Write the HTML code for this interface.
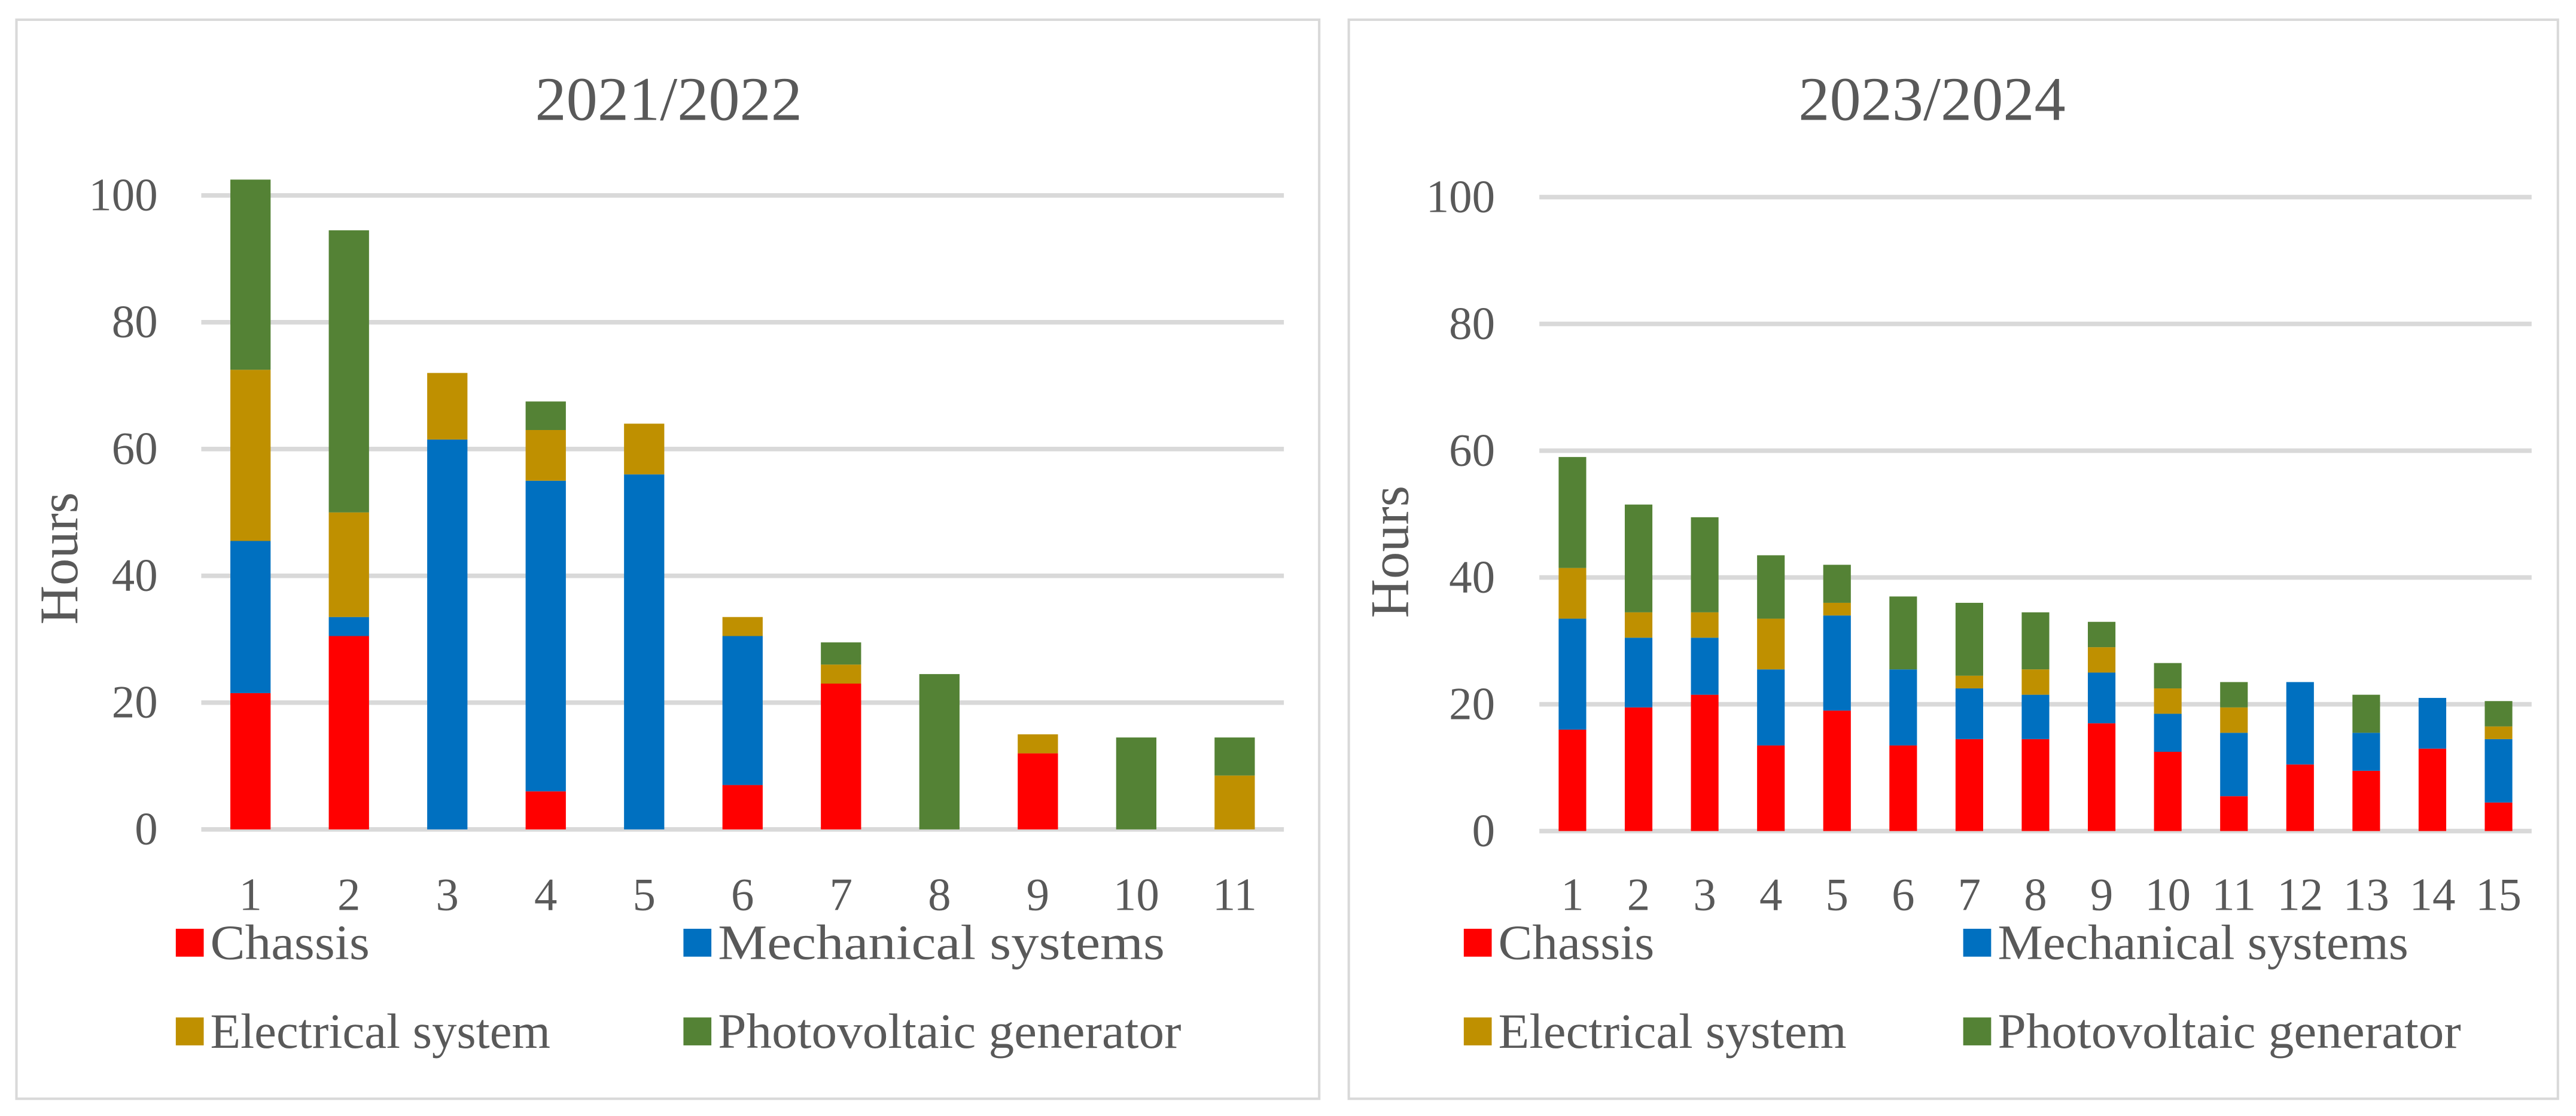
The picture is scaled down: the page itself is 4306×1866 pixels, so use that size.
<!DOCTYPE html>
<html><head><meta charset="utf-8"><style>
html,body{margin:0;padding:0;background:#fff;}
svg{display:block;}
text{font-family:"Liberation Serif",serif;fill:#595959;}
</style></head><body>
<svg id="chart" width="4306" height="1866" viewBox="0 0 1568 679.5" xmlns="http://www.w3.org/2000/svg">
<rect x="10" y="12" width="793" height="657" fill="#fff" stroke="#D9D9D9" stroke-width="1.5"/>
<rect x="821" y="12" width="736" height="657" fill="#fff" stroke="#D9D9D9" stroke-width="1.5"/>
</svg>
<script>
const seriesNames = ["Chassis","Mechanical systems","Electrical system","Photovoltaic generator"];
const colors = ["#FF0000","#0070C0","#BF9000","#548235"];
const yTicks = [0,20,40,60,80,100];
const cats1 = ["1","2","3","4","5","6","7","8","9","10","11"];
const chassis1 = [21.5,30.5,0,6,0,7,23,0,12,0,0];
const mech1 = [24,3,61.5,49,56,23.5,0,0,0,0,0];
const elec1 = [27,16.5,10.5,8,8,3,3,0,3,0,8.5];
const pv1 = [30,44.5,0,4.5,0,0,3.5,24.5,0,14.5,6];
const cats2 = ["1","2","3","4","5","6","7","8","9","10","11","12","13","14","15"];
const chassis2 = [16,19.5,21.5,13.5,19,13.5,14.5,14.5,17,12.5,5.5,10.5,9.5,13,4.5];
const mech2 = [17.5,11,9,12,15,12,8,7,8,6,10,13,6,8,10];
const elec2 = [8,4,4,8,2,0,2,4,4,4,4,0,0,0,2];
const pv2 = [17.5,17,15,10,6,11.5,11.5,9,4,4,4,0,6,0,4];

const svg = document.getElementById('chart');
const NS = "http://www.w3.org/2000/svg";
function mk(tag, attrs, txt){const e=document.createElementNS(NS,tag);for(const k in attrs)e.setAttribute(k,attrs[k]);if(txt!==undefined)e.textContent=txt;svg.appendChild(e);return e;}

function drawPanel(p){
  const y = v => p.y0 + (p.y100 - p.y0) * v / 100;
  const bw = (p.x1 - p.x0) / p.cats.length;
  const x = i => p.x0 + bw * (i + 0.5);
  let t = mk('text',{x:p.tx,y:73,'font-size':38,'text-anchor':'middle'},p.title);
  
  
  yTicks.forEach(v=>{
    const g = mk('line',{x1:p.x0,x2:p.x1,y1:y(v),y2:y(v),stroke:'#D9D9D9','stroke-width':2.8});
    
    
    const l = mk('text',{x:p.labX,y:y(v)+9,'font-size':28,'text-anchor':'end'},String(v));
    
    
  });
  const h = mk('text',{x:0,y:0,'font-size':33,'text-anchor':'middle',transform:`translate(${p.hx},${p.hy}) rotate(-90)`},'Hours');
  
  
  p.cats.forEach((c,i)=>{
    let base = 0;
    p.series.forEach((s,k)=>{
      const v = s[i];
      if(v>0){
        const r = mk('rect',{x:x(i)-p.barW/2,y:y(base+v),width:p.barW,height:y(base)-y(base+v),fill:colors[k]});
        
        
      }
      base += v;
    });
    const tl = mk('text',{x:x(i),y:554,'font-size':28,'text-anchor':'middle'},c);
    
    
  });
  const pos = [[p.lx1,574],[p.lx2,574],[p.lx1,628],[p.lx2,628]];
  seriesNames.forEach((n,k)=>{
    const sw = mk('rect',{x:pos[k][0],y:pos[k][1]-8.5,width:17,height:17,fill:colors[k]});
    
    
    const lt = mk('text',{x:pos[k][0]+21,y:pos[k][1]+10,'font-size':30,textLength:p.lw[k]-5,lengthAdjust:'spacingAndGlyphs'},n);
    
    
  });
}
drawPanel({id:'left',title:'2021/2022',tx:407,x0:122.5,x1:781.5,y0:505,y100:119,labX:96,hx:47,hy:340,barW:24.5,
  cats:cats1,series:[chassis1,mech1,elec1,pv1],lx1:107,lx2:416,lw:[102,277,212,287]});
drawPanel({id:'right',title:'2023/2024',tx:1176,x0:937,x1:1541,y0:506,y100:120,labX:910,hx:857,hy:336,barW:16.8,
  cats:cats2,series:[chassis2,mech2,elec2,pv2],lx1:891,lx2:1195,lw:[100,255,217,287]});
</script>
</body></html>
